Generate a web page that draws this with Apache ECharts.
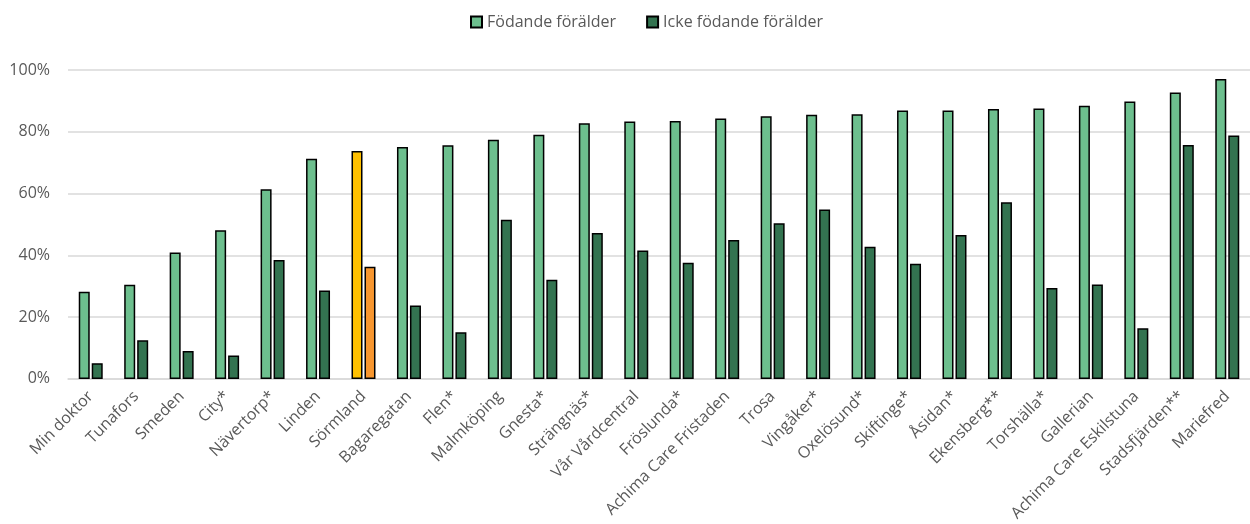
<!DOCTYPE html>
<html><head><meta charset="utf-8">
<script src="https://cdn.jsdelivr.net/npm/echarts@6/dist/echarts.min.js"></script>
<style>html,body{margin:0;padding:0;background:#fff}#c{width:1250px;height:524px}</style>
</head><body><div id="c"></div>
<script>
const categories = ["Min doktor","Tunafors","Smeden","City*","Nävertorp*","Linden","Sörmland","Bagaregatan","Flen*","Malmköping","Gnesta*","Strängnäs*","Vår Vårdcentral","Fröslunda*","Achima Care Fristaden","Trosa","Vingåker*","Oxelösund*","Skiftinge*","Åsidan*","Ekensberg**","Torshälla*","Gallerian","Achima Care Eskilstuna","Stadsfjärden**","Mariefred"];
const fodande = [28.2,30.5,40.9,48.1,61.4,71.3,73.8,75.1,75.6,77.4,79.0,82.8,83.3,83.5,84.3,85.0,85.5,85.7,86.9,86.9,87.4,87.5,88.4,89.8,92.7,97.1];
const ickeFodande = [5.1,12.5,9.0,7.6,38.5,28.6,36.3,23.8,15.1,51.5,32.1,47.2,41.6,37.6,45.0,50.4,54.8,42.8,37.3,46.6,57.2,29.4,30.6,16.4,75.7,78.8];
const seriesNames = ["Födande förälder","Icke födande förälder"];
const highlight = "Sörmland";

const c1 = "#6dbf8e", c2 = "#337350", h1 = "#ffc000", h2 = "#f7962f";
function mk(vals, hi){
  return vals.map((v,i)=> categories[i]===highlight ? {value:v, itemStyle:{color:hi}} : v);
}
const chart = echarts.init(document.getElementById('c'));
chart.setOption({
  animation:false,
  textStyle:{fontFamily:"Open Sans, Liberation Sans, sans-serif"},
  legend:{top:9,left:465,itemWidth:11,itemHeight:11,itemGap:30,icon:'rect',
    textStyle:{color:'#595959',fontSize:16,fontFamily:"Open Sans"},
    data:seriesNames},
  grid:{left:68,right:0,top:70,bottom:144},
  xAxis:{type:'category',data:categories,
    axisTick:{show:false},
    axisLine:{lineStyle:{color:'#d9d9d9',width:1.5}},
    axisLabel:{interval:0,rotate:45,color:'#595959',fontSize:16,fontFamily:"Open Sans",margin:15}},
  yAxis:{type:'value',min:0,max:100,interval:20,
    axisLabel:{formatter:'{value}%',color:'#595959',fontSize:16,fontFamily:"Open Sans",margin:18},
    splitLine:{lineStyle:{color:'#d9d9d9',width:1.5}},
    axisLine:{show:false},axisTick:{show:false}},
  series:[
    {name:seriesNames[0],type:'bar',data:mk(fodande,h1),barWidth:11,barGap:'18%',
     itemStyle:{color:c1,borderColor:'#000',borderWidth:1.5}},
    {name:seriesNames[1],type:'bar',data:mk(ickeFodande,h2),barWidth:11,
     itemStyle:{color:c2,borderColor:'#000',borderWidth:1.5}}
  ]
});
</script></body></html>
